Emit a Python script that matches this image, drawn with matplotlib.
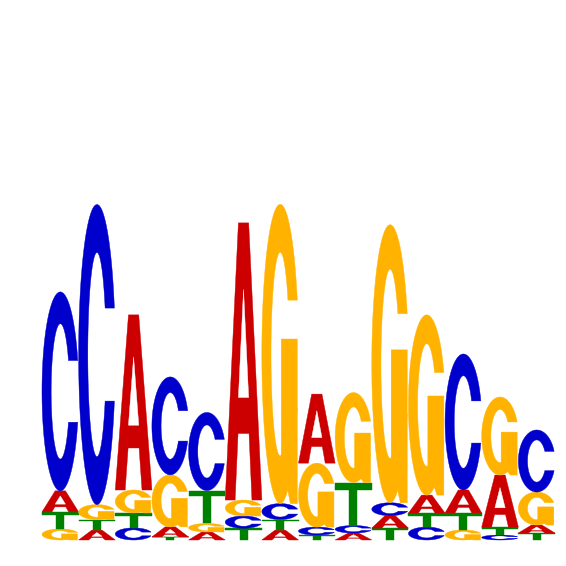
import numpy as np
import matplotlib
matplotlib.use("Agg")
import matplotlib.pyplot as plt
from matplotlib.patches import Polygon

# letter heights (bits) per position
positions = np.arange(1, 15)
h_A = [0.124, 0.058, 1.030, 0.059, 0.047, 1.630, 0.058, 0.406, 0.041, 0.073, 0.106, 0.135, 0.306, 0.047]
h_C = [1.170, 1.765, 0.071, 0.576, 0.459, 0.072, 0.094, 0.047, 0.044, 0.076, 0.076, 0.800, 0.029, 0.365]
h_G = [0.065, 0.088, 0.135, 0.306, 0.050, 0.094, 1.760, 0.376, 0.529, 1.635, 1.060, 0.059, 0.459, 0.194]
h_T = [0.100, 0.062, 0.088, 0.018, 0.194, 0.069, 0.062, 0.029, 0.253, 0.070, 0.082, 0.100, 0.047, 0.041]

colors = {"A": "#CC0000", "C": "#0000CC", "G": "#FFB300", "T": "#008000"}


# letter outlines in a unit box
def shape_A():
    x = np.array([0, 0.36, 0.64, 1, 0.73, 0.65, 0.35, 0.27])
    y = np.array([0, 1, 1, 0, 0, 0.24, 0.24, 0])
    hx = np.array([0.36, 0.5, 0.64])
    hy = np.array([0.37, 0.76, 0.37])
    return [(x, y, None), (hx, hy, "white")]


def ring(gap=0.16, rx=0.25, ry=0.34):
    # open ellipse ring, opening on the right between 0.5-gap and 0.5+gap
    t0 = np.arcsin(gap / 0.5)
    t = np.linspace(t0, 2 * np.pi - t0, 200)
    p0 = np.arcsin(gap / ry)
    p = np.linspace(2 * np.pi - p0, p0, 200)
    x = np.r_[0.5 + 0.5 * np.cos(t), 0.5 + rx * np.cos(p)]
    y = np.r_[0.5 + 0.5 * np.sin(t), 0.5 + ry * np.sin(p)]
    return x, y


def shape_C():
    x, y = ring(0.155)
    return [(x, y, None)]


def shape_G():
    x, y = ring(0.18)
    r1 = 0.5 + 0.5 * np.cos(np.arcsin(0.18 / 0.5))
    bx = np.array([0.53, r1, r1, 0.78, 0.53])
    by = np.array([0.55, 0.55, 0.0, 0.0, 0.15])
    return [(x, y, None), (bx, by, None)]


def shape_T():
    x = np.array([0, 1, 1, 0.61, 0.61, 0.39, 0.39, 0])
    y = np.array([1, 1, 0.82, 0.82, 0, 0, 0.82, 0.82])
    return [(x, y, None)]


shapes = {"A": shape_A(), "C": shape_C(), "G": shape_G(), "T": shape_T()}

fig = plt.figure(figsize=(5.66, 5.66), dpi=100)
ax = fig.add_axes([0, 0, 1, 1])
ax.set_xlim(-0.646, 14.80)
ax.set_ylim(-0.153, 3.176)
ax.axis("off")

for i, pos in enumerate(positions):
    col = {"A": h_A[i], "C": h_C[i], "G": h_G[i], "T": h_T[i]}
    base = 0.0
    for letter, ht in sorted(col.items(), key=lambda kv: kv[1]):
        for sx, sy, fc in shapes[letter]:
            xy = np.column_stack([pos - 0.5 + sx, base + ht * sy])
            c = fc if fc else colors[letter]
            ax.add_patch(Polygon(xy, closed=True, facecolor=c, edgecolor=c, lw=0.3))
        base += ht

fig.savefig("out.png", dpi=100)
